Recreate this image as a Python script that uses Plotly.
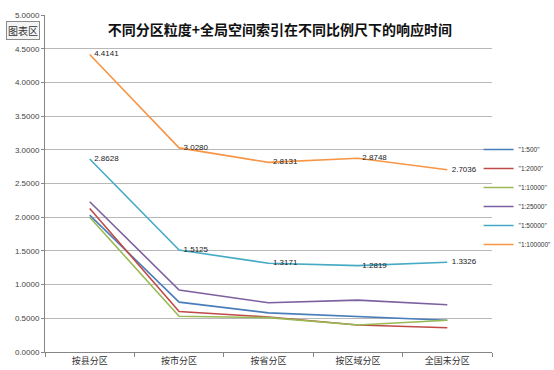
import plotly.graph_objects as go

categories = ["按县分区", "按市分区", "按省分区", "按区域分区", "全国未分区"]
series_names = ['"1:500"', '"1:2000"', '"1:10000"', '"1:25000"', '"1:50000"', '"1:100000"']
s_500 = [2.03, 0.74, 0.58, 0.53, 0.47]
s_2000 = [2.13, 0.60, 0.52, 0.40, 0.36]
s_10000 = [2.00, 0.53, 0.51, 0.40, 0.47]
s_25000 = [2.23, 0.92, 0.73, 0.77, 0.70]
s_50000 = [2.8628, 1.5125, 1.3171, 1.2819, 1.3326]
s_100000 = [4.4141, 3.0280, 2.8131, 2.8748, 2.7036]
series_values = [s_500, s_2000, s_10000, s_25000, s_50000, s_100000]
labelled = [False, False, False, False, True, True]
colors = ["#4A7EBB", "#BE4B48", "#98B954", "#7D60A0", "#46AAC5", "#F79646"]
y_ticks = [0, 0.5, 1, 1.5, 2, 2.5, 3, 3.5, 4, 4.5, 5]

fig = go.Figure()
for name, vals, lab, col in zip(series_names, series_values, labelled, colors):
    fig.add_trace(go.Scatter(
        x=categories, y=vals, name=name,
        mode="lines+text" if lab else "lines",
        texttemplate="  %{y:.4f}" if lab else None,
        textposition="middle right",
        textfont=dict(size=8, color="#222222", family="Liberation Sans"),
        line=dict(color=col, width=1.6),
        cliponaxis=False,
    ))

fig.update_layout(
    width=554, height=370,
    margin=dict(l=45, r=62, t=15, b=18, autoexpand=False),
    paper_bgcolor="white", plot_bgcolor="white",
    title=dict(text="<b>不同分区粒度+全局空间索引在不同比例尺下的响应时间</b>",
               x=280 / 554, xanchor="center", y=1 - 30 / 370, yanchor="middle",
               font=dict(size=14, color="#111111", family="Noto Sans CJK SC")),
    showlegend=True,
    legend=dict(x=0.97, xanchor="left", y=0.46, yanchor="middle",
                font=dict(size=6.5, color="#333333", family="Liberation Sans"),
                itemwidth=30, bgcolor="rgba(0,0,0,0)", tracegroupgap=0),
    xaxis=dict(type="category", range=[-0.5, 4.5], showgrid=False,
               showline=True, linecolor="#868686", linewidth=1,
               ticks="outside", ticklen=4, tickcolor="#868686", tickson="boundaries",
               automargin=False,
               tickfont=dict(size=9, color="#333333", family="Noto Sans CJK SC")),
    yaxis=dict(range=[0, 5], tickvals=y_ticks, tickformat=".4f",
               showgrid=True, gridcolor="#B8B8B8", gridwidth=1,
               showline=True, linecolor="#868686", linewidth=1,
               ticks="outside", ticklen=3, tickcolor="#868686",
               zeroline=False, automargin=False,
               tickfont=dict(size=8, color="#444444", family="Liberation Sans")),
)

fig.add_annotation(text="图表区", xref="paper", yref="paper",
                   x=(23 - 45) / 447, y=(352 - 31) / 337, xanchor="center", yanchor="middle",
                   showarrow=False, font=dict(size=10, color="#333333", family="Noto Sans CJK SC"),
                   bordercolor="#8A8A8A", borderwidth=1, borderpad=1, bgcolor="#F4F4F4")

fig.write_html("out.html", config={"displayModeBar": False},
               post_script="document.body.style.margin='0';document.body.style.overflow='hidden';")
